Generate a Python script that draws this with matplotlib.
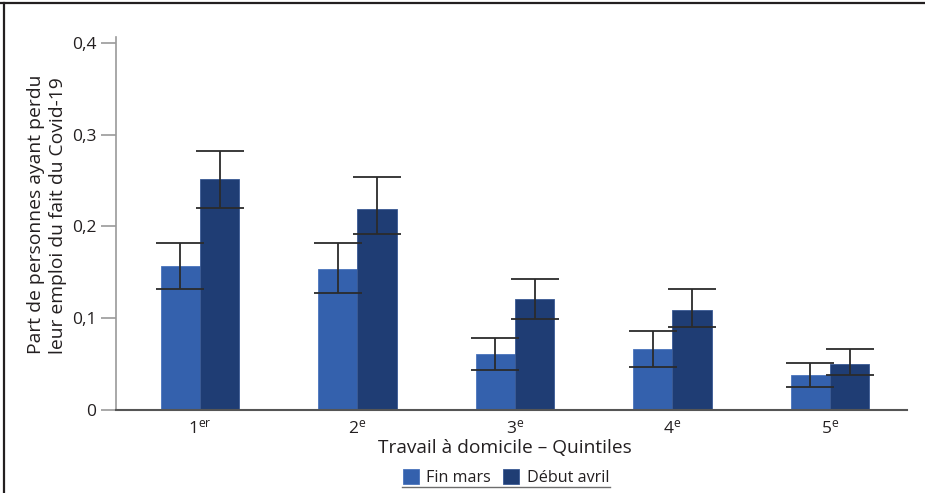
import matplotlib
matplotlib.use("Agg")
import matplotlib.pyplot as plt
import numpy as np
from matplotlib.lines import Line2D

categories = ["1$^{\\mathrm{er}}$", "2$^{\\mathrm{e}}$", "3$^{\\mathrm{e}}$", "4$^{\\mathrm{e}}$", "5$^{\\mathrm{e}}$"]
fin_mars = [0.157, 0.1535, 0.061, 0.0665, 0.038]
fin_mars_lo = [0.132, 0.128, 0.044, 0.047, 0.025]
fin_mars_hi = [0.182, 0.182, 0.078, 0.086, 0.051]
debut_avril = [0.252, 0.2195, 0.121, 0.109, 0.0505]
debut_avril_lo = [0.220, 0.1915, 0.099, 0.090, 0.038]
debut_avril_hi = [0.282, 0.254, 0.143, 0.132, 0.0665]
yticks = [0, 0.1, 0.2, 0.3, 0.4]
ytick_labels = ["0", "0,1", "0,2", "0,3", "0,4"]
series_names = ["Fin mars", "Début avril"]

plt.rcParams['font.family'] = ['Open Sans', 'DejaVu Sans']
plt.rcParams['mathtext.fontset'] = 'custom'
plt.rcParams['mathtext.rm'] = 'Open Sans'
plt.rcParams['mathtext.it'] = 'Open Sans'

c1 = "#3461ad"
c2 = "#1f3d74"
textc = "#231f20"

fig = plt.figure(figsize=(9.25, 4.93), dpi=100)
ax = fig.add_axes([0.1254, 0.1684, 0.8551, 0.7565])

x = np.arange(len(categories))
w = 0.25
ax.bar(x - w/2, fin_mars, width=w, color=c1, edgecolor="#4a74bd", linewidth=0.6, label=series_names[0], zorder=2)
ax.bar(x + w/2, debut_avril, width=w, color=c2, edgecolor="#3a5a94", linewidth=0.6, label=series_names[1], zorder=2)

def err(vals, lo, hi):
    v = np.array(vals); return [v - np.array(lo), np.array(hi) - v]

ax.errorbar(x - w/2, fin_mars, yerr=err(fin_mars, fin_mars_lo, fin_mars_hi), fmt='none',
            ecolor="#2b2b2b", elinewidth=1.3, capsize=17.5, capthick=1.3, zorder=3)
ax.errorbar(x + w/2, debut_avril, yerr=err(debut_avril, debut_avril_lo, debut_avril_hi), fmt='none',
            ecolor="#2b2b2b", elinewidth=1.3, capsize=17.5, capthick=1.3, zorder=3)

ax.set_xlim(-0.533, 4.489)
ax.set_ylim(0, 0.4065)
ax.set_yticks(yticks)
ax.set_yticklabels(ytick_labels)
ax.set_xticks(x)
ax.set_xticklabels(categories)

for s in ["top", "right"]:
    ax.spines[s].set_visible(False)
ax.spines["left"].set_color("#9a9a9a")
ax.spines["left"].set_linewidth(1.2)
ax.spines["bottom"].set_color("#555555")
ax.spines["bottom"].set_linewidth(1.5)
ax.tick_params(axis='y', length=11, width=1.2, color="#9a9a9a", labelsize=12.5, labelcolor=textc, pad=3)
ax.tick_params(axis='x', length=0, labelsize=12.5, labelcolor=textc, pad=7)

ax.set_ylabel("Part de personnes ayant perdu\nleur emploi du fait du Covid-19", fontsize=13.9,
              color=textc, linespacing=1.3, multialignment='left')
ax.yaxis.set_label_coords(-0.0615, 0.525)
ax.set_xlabel("Travail à domicile – Quintiles", fontsize=13.8, color=textc)
ax.xaxis.set_label_coords(0.4918, -0.078)

leg = fig.legend(loc="center", bbox_to_anchor=(0.547, 0.031), ncol=2, frameon=False,
                 fontsize=11.6, handlelength=1.0, handleheight=1.0, handletextpad=0.45,
                 columnspacing=0.75, borderpad=0.2)
for t in leg.get_texts():
    t.set_color(textc)

# underline below legend
fig.add_artist(Line2D([402/925, 610/925], [1 - 487/493, 1 - 487/493], color="#6d6d6d", lw=1.0))
# outer frame (top and left)
fig.add_artist(Line2D([0, 1], [1 - 3/493, 1 - 3/493], color="#231f20", lw=1.6))
fig.add_artist(Line2D([4/925, 4/925], [0, 1 - 3/493], color="#231f20", lw=1.6))

fig.savefig("out.png", dpi=100)
